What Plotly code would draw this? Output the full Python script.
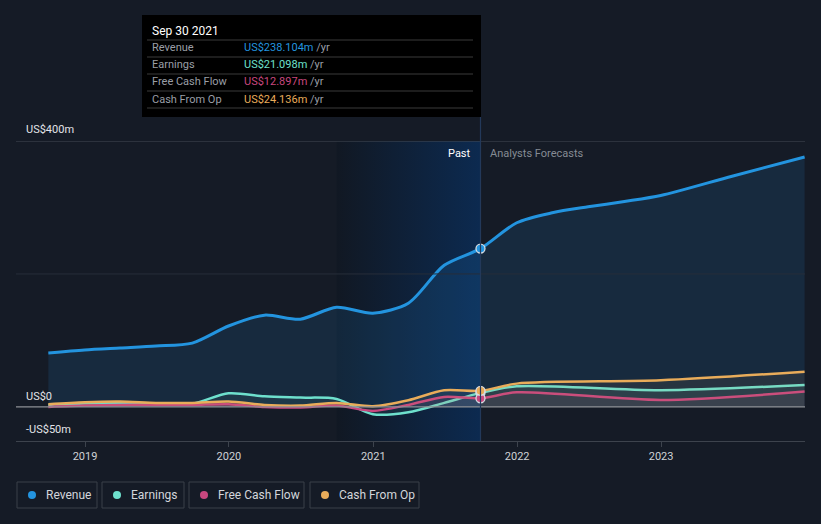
import plotly.graph_objects as go

# ---------------- data ----------------
dates_past = ["2018-09-30", "2018-12-31", "2019-03-31", "2019-06-30", "2019-09-30",
              "2019-12-31", "2020-03-31", "2020-06-30", "2020-09-30", "2020-12-31",
              "2021-03-31", "2021-06-30", "2021-09-30"]
dates_rev_fc = ["2021-12-31", "2022-03-31", "2022-06-30", "2022-09-30", "2022-12-31",
                "2023-06-30", "2023-12-31"]
dates_fc = ["2021-12-31", "2022-12-31", "2023-12-31"]

revenue_past = [81, 85.6, 88.6, 91.6, 96, 121.7, 138, 132, 150, 141, 156, 213, 238.104]
revenue_fc = [277, 292, 301, 309, 318, 347, 376]

earnings_past = [3, 5, 6, 5, 5, 20.5, 16, 14, 12, -11, -8, 6, 21.098]
earnings_fc = [31, 25, 33]

fcf_past = [0, 2, 3, 3, 3, 4, 0, -1, 2, -6, 3, 15, 12.897]
fcf_fc = [22, 10.5, 23]

cfo_past = [4, 7, 8, 6, 6, 8, 3, 2, 6, 1, 10, 25, 24.136]
cfo_fc = [35, 40, 53]

year_ticks = ["2019-01-01", "2020-01-01", "2021-01-01", "2022-01-01", "2023-01-01"]
year_labels = ["2019", "2020", "2021", "2022", "2023"]

series_names = ["Revenue", "Earnings", "Free Cash Flow", "Cash From Op"]
series_colors = ["#2394df", "#6ee0cd", "#c8477f", "#e9ac5a"]
tooltip_values = ["US$238.104m", "US$21.098m", "US$12.897m", "US$24.136m"]

x_range = ["2018-07-10", "2024-01-01"]
y_range = [-51.3, 400]
band_start = "2020-09-30"
now_date = "2021-09-30"

# ---------------- layout helpers (pixel -> paper) ----------------
W, H = 821, 524
ML, MR, MT, MB = 16, 16, 141, 83
PW, PH = W - ML - MR, H - MT - MB


def px(x):
    return (x - ML) / PW


def py(y):
    return (H - MB - y) / PH


BG = "#151b26"
FONT = "Roboto"

fig = go.Figure()

# Past band with horizontal gradient
fig.add_trace(go.Scatter(
    x=[band_start, now_date, now_date, band_start, band_start],
    y=[y_range[0], y_range[0], y_range[1], y_range[1], y_range[0]],
    mode="lines", line=dict(width=0), fill="toself",
    fillgradient=dict(type="horizontal",
                      colorscale=[[0, "#111823"], [1, "#0c2a50"]]),
    hoverinfo="skip", showlegend=False))


def rgba(hexc, a):
    h = hexc.lstrip("#")
    r, g, b = int(h[0:2], 16), int(h[2:4], 16), int(h[4:6], 16)
    return f"rgba({r},{g},{b},{a})"


all_series = [
    (dates_past + dates_rev_fc, revenue_past + revenue_fc, 0.13, 3),
    (dates_past + dates_fc, earnings_past + earnings_fc, 0.08, 2.5),
    (dates_past + dates_fc, fcf_past + fcf_fc, 0.08, 2.5),
    (dates_past + dates_fc, cfo_past + cfo_fc, 0.08, 2.5),
]

for (xs, ys, a, w), name, col in zip(all_series, series_names, series_colors):
    fig.add_trace(go.Scatter(
        x=xs, y=ys, mode="lines", name=name,
        line=dict(color=col, width=w, shape="spline", smoothing=0.8),
        fill="tozeroy", fillcolor=rgba(col, a),
        hoverinfo="skip", showlegend=False))

# markers at the current date
marker_vals = [revenue_past[-1], earnings_past[-1], fcf_past[-1], cfo_past[-1]]
for v, col in zip(marker_vals, series_colors):
    fig.add_trace(go.Scatter(
        x=[now_date], y=[v], mode="markers",
        marker=dict(size=9, color=col, line=dict(color="#d8dde3", width=1.3)),
        hoverinfo="skip", showlegend=False))

shapes = []
# gridlines
shapes.append(dict(type="line", xref="paper", yref="y", x0=0, x1=1, y0=400, y1=400,
                   line=dict(color="#454b55", width=1)))
shapes.append(dict(type="line", xref="paper", yref="y", x0=0, x1=1, y0=200, y1=200,
                   line=dict(color="#272e3a", width=1)))
shapes.append(dict(type="line", xref="paper", yref="y", x0=0, x1=1, y0=0, y1=0,
                   line=dict(color="#8e9196", width=1.2)))
# hover vertical line
shapes.append(dict(type="line", xref="x", yref="paper", x0=now_date, x1=now_date,
                   y0=0, y1=py(117), line=dict(color="#23395a", width=1.2)))

# tooltip box
shapes.append(dict(type="rect", xref="paper", yref="paper",
                   x0=px(142), x1=px(481), y0=py(117), y1=py(15),
                   fillcolor="#000000", line=dict(width=0), layer="above"))
for ly in [40, 57, 74, 91, 108]:
    shapes.append(dict(type="line", xref="paper", yref="paper",
                       x0=px(147), x1=px(473), y0=py(ly), y1=py(ly),
                       line=dict(color="#3a3a3a", width=1), layer="above"))

annotations = []
annotations.append(dict(xref="paper", yref="paper", x=px(150), y=py(31),
                        xanchor="left", yanchor="middle", showarrow=False,
                        text="Sep 30 2021", font=dict(family=FONT, size=12, color="#ffffff")))
row_y = [48, 65, 82, 99]
for name, col, val, ry in zip(series_names, series_colors, tooltip_values, row_y):
    annotations.append(dict(xref="paper", yref="paper", x=px(150), y=py(ry),
                            xanchor="left", yanchor="middle", showarrow=False,
                            text=name, font=dict(family=FONT, size=11, color="#9a9ea6")))
    annotations.append(dict(xref="paper", yref="paper", x=px(242), y=py(ry),
                            xanchor="left", yanchor="middle", showarrow=False,
                            text=f"<span style='color:{col}'>{val}</span> /yr",
                            font=dict(family=FONT, size=11, color="#9a9ea6")))

# y labels
for txt, yy in [("US$400m", 129), ("US$0", 396), ("-US$50m", 429)]:
    annotations.append(dict(xref="paper", yref="paper", x=px(24), y=py(yy),
                            xanchor="left", yanchor="middle", showarrow=False,
                            text=txt, font=dict(family=FONT, size=11, color="#e2e4e8")))

# Past / Forecast labels
annotations.append(dict(xref="x", yref="paper", x=now_date, y=py(153), xshift=-7,
                        xanchor="right", yanchor="middle", showarrow=False,
                        text="Past", font=dict(family=FONT, size=11, color="#ffffff")))
annotations.append(dict(xref="x", yref="paper", x=now_date, y=py(153), xshift=8,
                        xanchor="left", yanchor="middle", showarrow=False,
                        text="Analysts Forecasts", font=dict(family=FONT, size=11, color="#858b94")))

# legend boxes
boxes = [(17, 97), (102, 184), (189, 304), (310, 419)]
for (bx0, bx1), name, col in zip(boxes, series_names, series_colors):
    shapes.append(dict(type="rect", xref="paper", yref="paper",
                       x0=px(bx0), x1=px(bx1), y0=py(508), y1=py(482),
                       line=dict(color="#3b4049", width=1), fillcolor="rgba(0,0,0,0)"))
    shapes.append(dict(type="circle", xref="paper", yref="paper",
                       xsizemode="pixel", ysizemode="pixel",
                       xanchor=px(bx0 + 15), yanchor=py(495),
                       x0=-4, x1=4, y0=-4, y1=4,
                       fillcolor=col, line=dict(width=0)))
    annotations.append(dict(xref="paper", yref="paper", x=px(bx0 + 27), y=py(495),
                            xanchor="left", yanchor="middle", showarrow=False,
                            text=name, font=dict(family=FONT, size=12, color="#d3d6db")))

fig.update_layout(
    width=W, height=H,
    margin=dict(l=ML, r=MR, t=MT, b=MB, pad=0),
    paper_bgcolor=BG, plot_bgcolor=BG,
    showlegend=False, hovermode=False,
    shapes=shapes, annotations=annotations,
    xaxis=dict(type="date", range=x_range, tickvals=year_ticks, ticktext=year_labels,
               showgrid=False, zeroline=False, showline=True, linecolor="#3d434d",
               ticks="outside", ticklen=5, tickcolor="#3d434d",
               tickfont=dict(family=FONT, size=11, color="#cfd2d6"), fixedrange=True),
    yaxis=dict(range=y_range, showgrid=False, zeroline=False, showticklabels=False,
               fixedrange=True),
    font=dict(family=FONT),
)

fig.write_html(
    "out.html",
    config={"displayModeBar": False},
    post_script="document.body.style.margin='0';document.body.style.overflow='hidden';"
                "document.body.style.background='" + BG + "';",
)
